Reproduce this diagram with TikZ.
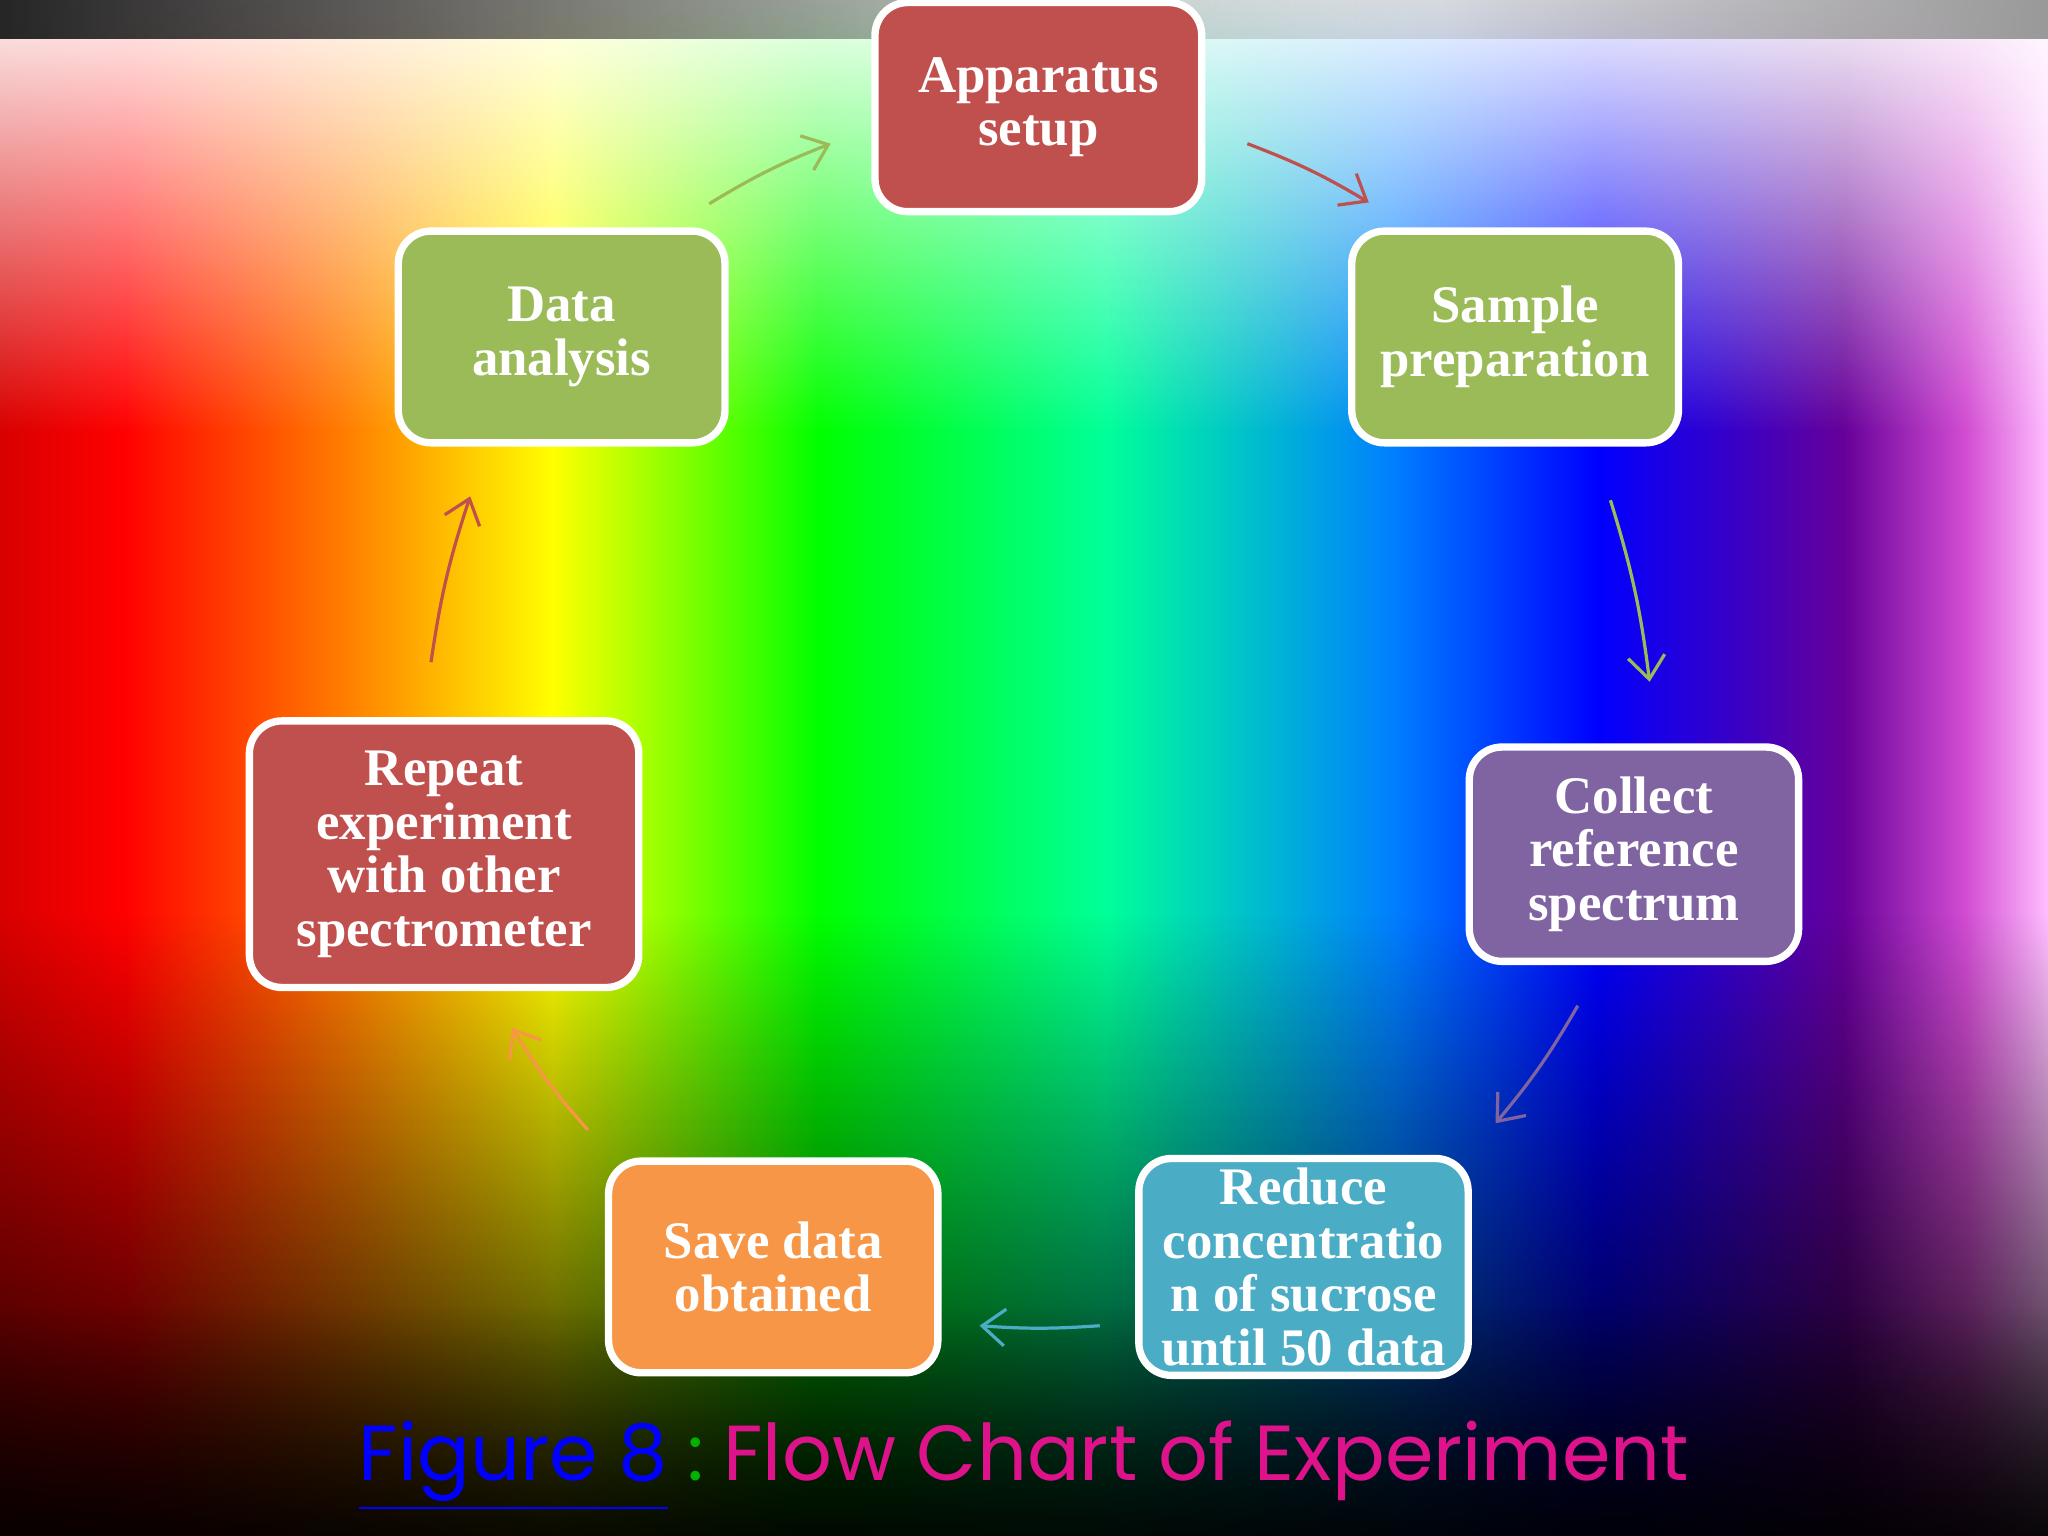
\documentclass[tikz,border=0pt]{standalone}
\usepackage{fontspec}
\setmainfont{Liberation Serif}
\newfontfamily\capfont{Poppins}
\usetikzlibrary{arrows.meta,fadings}
\definecolor{ored}{HTML}{C0504D}
\definecolor{ogreen}{HTML}{9BBB59}
\definecolor{opurple}{HTML}{8064A2}
\definecolor{oteal}{HTML}{4BACC6}
\definecolor{oorange}{HTML}{F79646}
\pgfdeclarehorizontalshading{rainbowbg}{100bp}{
 color(0bp)=(red!85!black);
 color(25bp)=(red!85!black);
 color(28bp)=(red);
 color(33.5bp)=(orange);
 color(38.5bp)=(yellow);
 color(45bp)=(green);
 color(52bp)=(cyan!60!green);
 color(59bp)=(blue!50!cyan);
 color(64bp)=(blue);
 color(70bp)=(violet!80!blue);
 color(73bp)=(magenta!50!violet!70!white);
 color(75bp)=(magenta!25!white);
 color(100bp)=(magenta!25!white)}
\begin{document}
\begin{tikzpicture}[x=0.01cm,y=-0.01cm,
  box/.style={draw=white,line width=1.6pt,rounded corners=0.25cm,text=white,
    font=\bfseries\fontsize{11.5}{11.7}\selectfont,align=center,inner sep=2pt},
  arr/.style={line width=0.7pt,-{Straight Barb[length=5pt,width=8pt]}}]
\useasboundingbox (0,0) rectangle (1568,1176);
\shade[shading=rainbowbg] (0,0) rectangle (1568,1176);
\fill[white,path fading=south,fill opacity=0.95] (0,0) rectangle (1568,330);
\fill[black,path fading=north,fill opacity=0.9] (0,700) rectangle (1568,1176);
\fill[black,path fading=north,fill opacity=0.6] (0,1000) rectangle (1568,1176);
\fill[black!85,path fading=east] (0,0) rectangle (1100,30);
\fill[black!40,path fading=west] (900,0) rectangle (1568,30);
\node[box,fill=ored,minimum width=2.5cm,minimum height=1.6cm] (app) at (795,82) {Apparatus\\setup};
\node[box,fill=ogreen,minimum width=2.5cm,minimum height=1.62cm] (samp) at (1160,258) {Sample\\preparation};
\node[box,fill=opurple,minimum width=2.52cm,minimum height=1.64cm] (coll) at (1251,654) {Collect\\reference\\spectrum};
\node[box,fill=oteal,minimum width=2.52cm,minimum height=1.62cm] (red) at (998,970) {Reduce\\concentratio\\n of sucrose\\until 50 data};
\node[box,fill=oorange,minimum width=2.52cm,minimum height=1.62cm] (save) at (592,970) {Save data\\obtained};
\node[box,fill=ored,minimum width=2.98cm,minimum height=2.04cm] (rep) at (340,654) {Repeat\\experiment\\with other\\spectrometer};
\node[box,fill=ogreen,minimum width=2.5cm,minimum height=1.62cm] (data) at (430,258) {Data\\analysis};
\coordinate (a1) at (955,110); \coordinate (a2) at (1048,155);
\coordinate (b1) at (1233,383); \coordinate (b2) at (1263,522);
\coordinate (c1) at (1208,770); \coordinate (c2) at (1145,860);
\coordinate (d1) at (842,1015); \coordinate (d2) at (750,1015);
\coordinate (e1) at (450,865); \coordinate (e2) at (392,787);
\coordinate (f1) at (330,507); \coordinate (f2) at (360,380);
\coordinate (g1) at (543,156); \coordinate (g2) at (636,110);
\draw[arr,ored] (a1) to[bend left=5] (a2);
\draw[arr,ogreen] (b1) to[bend left=5] (b2);
\draw[arr,opurple] (c1) to[bend left=5] (c2);
\draw[arr,oteal] (d1) to[bend left=4] (d2);
\draw[arr,oorange] (e1) to[bend left=5] (e2);
\draw[arr,ored] (f1) to[bend left=5] (f2);
\draw[arr,ogreen] (g1) to[bend left=5] (g2);
\node[font=\capfont\fontsize{17}{20}\selectfont,inner sep=0] (cap) at (784,1122)
 {\textcolor{blue}{\underline{Figure 8}}\hspace{0.25em}\textcolor{green!70!black}{:}\hspace{0.25em}\textcolor{magenta!85!violet}{Flow Chart of Experiment}};
\end{tikzpicture}
\end{document}
